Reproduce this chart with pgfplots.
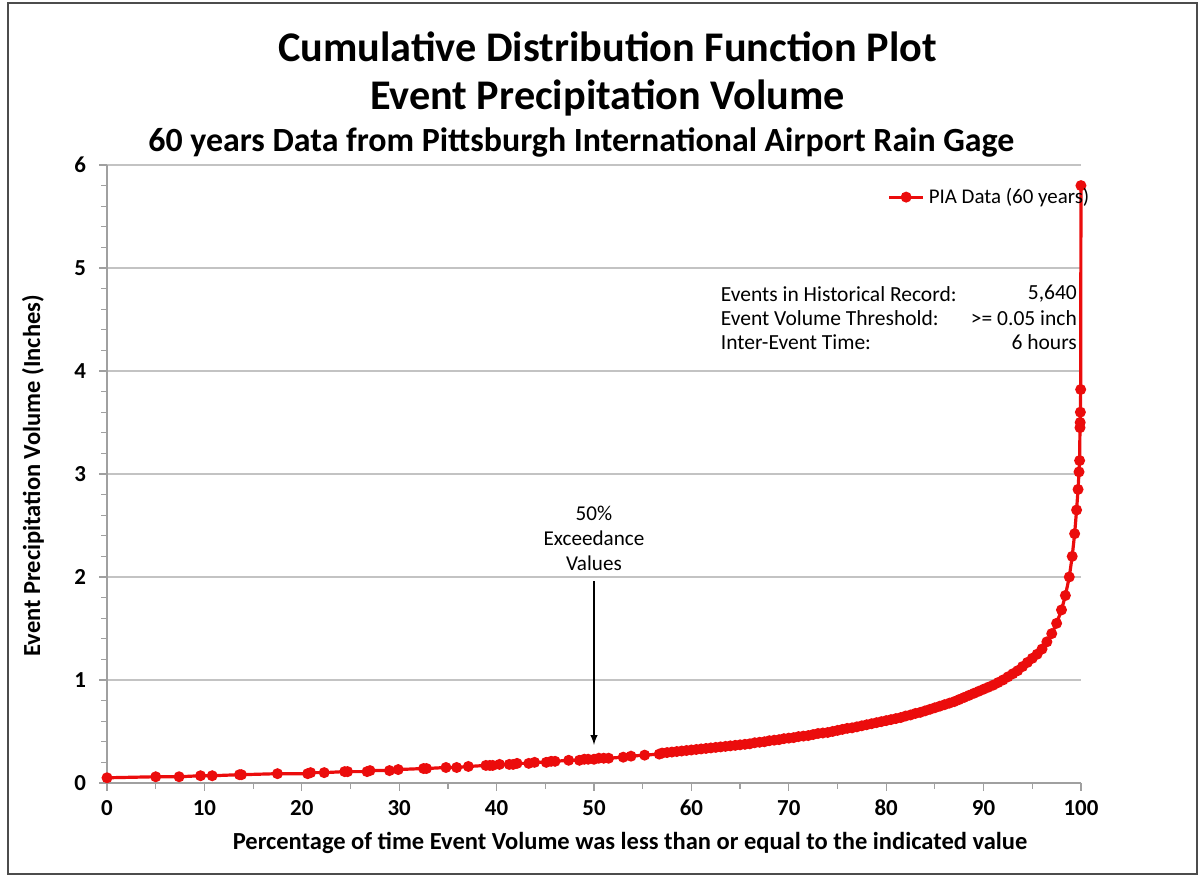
\documentclass[border=0pt]{standalone}
\usepackage{fontspec}
\setmainfont{Carlito}
\usepackage{pgfplots}
\pgfplotsset{compat=1.18}
\definecolor{piared}{RGB}{235,12,12}
\definecolor{gridgray}{RGB}{195,195,195}
\definecolor{axisgray}{RGB}{160,160,160}
\begin{document}
\begin{tikzpicture}
\begin{axis}[
    scale only axis,
    width=487bp, height=309bp,
    xmin=0, xmax=100, ymin=0, ymax=6,
    xtick={0,10,20,30,40,50,60,70,80,90,100}, ytick={0,1,2,3,4,5,6},
    minor x tick num=1, minor y tick num=4,
    axis x line=bottom, axis y line=left,
    axis line style={-, axisgray, line width=0.6pt},
    tick align=outside,
    major tick length=4bp, minor tick length=3bp,
    tick style={axisgray, line width=0.6pt},
    ymajorgrids, major grid style={gridgray, line width=0.7pt},
    ticklabel style={font=\bfseries\fontsize{11.5}{13}\selectfont},
    /pgf/number format/assume math mode=true,
    xticklabel style={yshift=-1bp},
    yticklabel style={xshift=-3bp},
    clip=false,
    legend style={draw=none, fill=none, font=\fontsize{10.5}{12}\selectfont,
        at={(rel axis cs:0.907,0.948)}, anchor=center},
    legend cell align=left,
]
\addplot[piared, line width=1.6bp, mark=*, mark size=1.9bp,
    mark options={fill=piared, draw=piared}] coordinates {
(0,0.05)(5.0,0.06)(7.4,0.06)(9.6,0.07)(10.8,0.07)(13.6,0.08)(13.8,0.08)
(17.5,0.09)(20.6,0.09)(20.9,0.10)(22.3,0.10)(24.4,0.11)(24.7,0.11)
(26.7,0.11)(27.0,0.12)(29.0,0.12)(29.9,0.13)(32.5,0.14)(32.8,0.14)
(34.8,0.15)(35.9,0.15)(37.1,0.16)(38.9,0.17)(39.3,0.17)(39.6,0.17)
(40.3,0.18)(41.3,0.18)(41.7,0.18)(42.1,0.19)(43.3,0.19)(43.9,0.20)
(45.1,0.20)(45.6,0.21)(46.0,0.21)(47.4,0.22)(48.5,0.22)(49.0,0.23)
(49.4,0.23)(50.0,0.23)(50.5,0.24)(51.0,0.24)(51.5,0.24)(53.0,0.25)
(53.8,0.26)(55.2,0.27)(56.7,0.28)
(57,0.29)(57.5,0.295)(58,0.30)(58.5,0.305)(59,0.31)(59.5,0.315)
(60,0.32)(60.5,0.325)(61,0.33)(61.5,0.335)(62,0.34)(62.5,0.345)
(63,0.35)(63.5,0.355)(64,0.36)(64.5,0.365)(65,0.37)(65.5,0.375)
(66,0.38)(66.5,0.39)(67,0.395)(67.5,0.40)(68,0.41)(68.5,0.415)
(69,0.42)(69.5,0.43)(70,0.435)(70.5,0.44)(71,0.45)(71.5,0.455)
(72,0.46)(72.5,0.47)(73,0.48)(73.5,0.485)(74,0.49)(74.5,0.50)
(75,0.51)(75.5,0.52)(76,0.53)(76.5,0.535)(77,0.545)(77.5,0.555)
(78,0.565)(78.5,0.575)(79,0.585)(79.5,0.595)(80,0.605)(80.5,0.615)
(81,0.625)(81.5,0.635)(82,0.65)(82.5,0.66)(83,0.675)(83.5,0.685)
(84,0.70)(84.5,0.715)(85,0.73)(85.5,0.745)(86,0.76)(86.5,0.775)
(87,0.79)(87.5,0.81)(88,0.83)(88.5,0.85)(89,0.87)(89.5,0.89)
(90,0.91)(90.5,0.93)(91,0.95)(91.5,0.975)(92,1.00)(92.5,1.03)
(93,1.06)(93.5,1.09)(94,1.13)(94.5,1.17)(95,1.21)(95.5,1.25)
(96,1.30)(96.5,1.37)(97,1.45)(97.5,1.55)(98,1.68)(98.4,1.82)
(98.8,2.00)(99.1,2.20)(99.35,2.42)(99.55,2.65)(99.7,2.85)(99.8,3.02)
(99.86,3.13)(99.9,3.45)(99.92,3.50)(99.94,3.60)(99.97,3.82)(100,5.80)
};
\addlegendentry{PIA Data (60 years)}

% titles and labels
\node[font=\bfseries\fontsize{21.2}{24}\selectfont] at (rel axis cs:0.514,1.191) {Cumulative Distribution Function Plot};
\node[font=\bfseries\fontsize{21.2}{24}\selectfont] at (rel axis cs:0.514,1.108) {Event Precipitation Volume};
\node[font=\bfseries\fontsize{17}{20}\selectfont] at (rel axis cs:0.487,1.036) {60 years Data from Pittsburgh International Airport Rain Gage};
\node[font=\bfseries\fontsize{12.3}{14}\selectfont] at (rel axis cs:0.537,-0.097) {Percentage of time Event Volume was less than or equal to the indicated value};
\node[font=\bfseries\fontsize{12.3}{14}\selectfont, rotate=90] at (rel axis cs:-0.076,0.497) {Event Precipitation Volume (Inches)};

% record details
\node[anchor=west, font=\fontsize{10.8}{12}\selectfont] at (axis cs:62.3,4.75) {Events in Historical Record:};
\node[anchor=west, font=\fontsize{10.8}{12}\selectfont] at (axis cs:62.3,4.51) {Event Volume Threshold:};
\node[anchor=west, font=\fontsize{10.8}{12}\selectfont] at (axis cs:62.3,4.28) {Inter-Event Time:};
\node[anchor=east, font=\fontsize{10.8}{12}\selectfont] at (axis cs:100.3,4.75) {5,640};
\node[anchor=east, font=\fontsize{10.8}{12}\selectfont] at (axis cs:100.3,4.51) {>= 0.05 inch};
\node[anchor=east, font=\fontsize{10.8}{12}\selectfont] at (axis cs:100.3,4.28) {6 hours};

% annotation
\node[font=\fontsize{10.6}{12}\selectfont] at (axis cs:50,2.62) {50\%};
\node[font=\fontsize{10.6}{12}\selectfont] at (axis cs:50,2.38) {Exceedance};
\node[font=\fontsize{10.6}{12}\selectfont] at (axis cs:50,2.13) {Values};
\draw[-latex, black, line width=0.7pt] (axis cs:50,1.96) -- (axis cs:50,0.37);

% chart frame
\draw[black!70, line width=0.7pt] (rel axis cs:-0.1017,-0.1472) rectangle (rel axis cs:1.1192,1.2621);
\path (rel axis cs:-0.1099,-0.1537) rectangle (rel axis cs:1.1253,1.267);
\end{axis}
\end{tikzpicture}
\end{document}
